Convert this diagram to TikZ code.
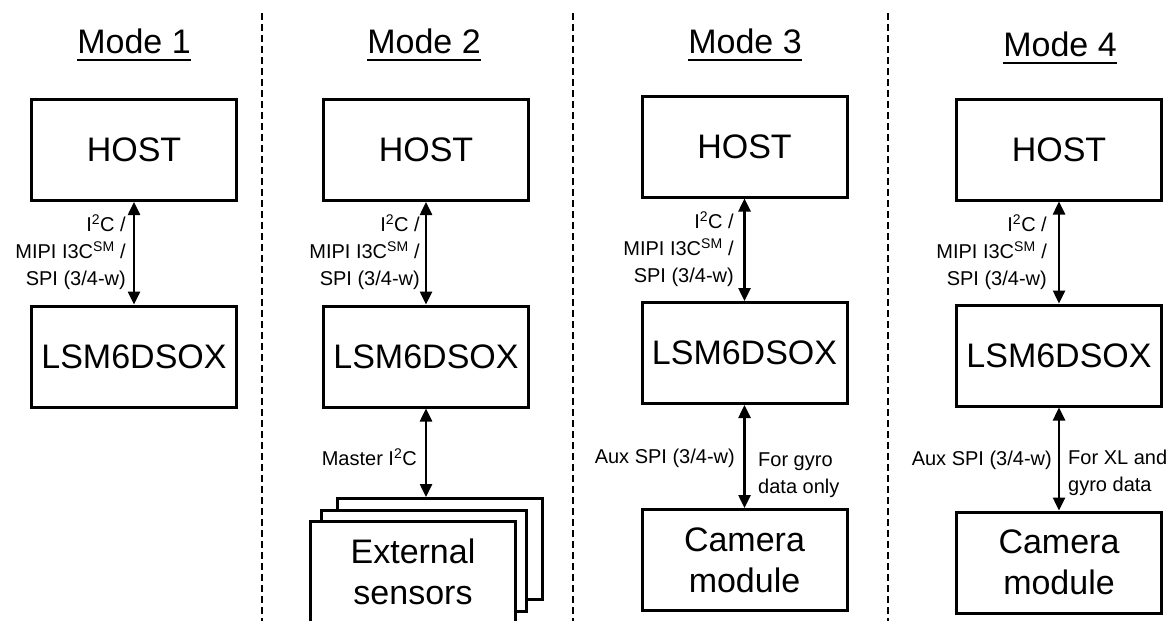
\documentclass[tikz,border=0pt]{standalone}
\usepackage{fontspec}
\setmainfont{Liberation Sans}
\usetikzlibrary{arrows.meta}

\tikzset{
  blk/.style={draw,line width=3pt,minimum width=205pt,minimum height=101pt,
    align=center,font=\fontsize{34}{41}\selectfont},
  ttl/.style={inner sep=0pt,anchor=base,font=\fontsize{34}{41}\selectfont},
  lbl/.style={inner sep=0pt,font=\fontsize{20}{27}\selectfont},
  bus/.style={line width=2.5pt,{Triangle[width=12pt,length=13pt]}-{Triangle[width=12pt,length=13pt]}},
  sep/.style={line width=2pt,dash pattern=on 7pt off 4pt}
}
\newcommand{\ifc}{I\textsuperscript{2}C /\\MIPI I3C\textsuperscript{SM} /\\SPI (3/4-w)}

\begin{document}
\begin{tikzpicture}[x=1pt,y=-1pt]
\useasboundingbox (0,0) rectangle (1176,621);

% separators
\foreach \xs in {262,573,888}{
  \draw[sep] (\xs,13) -- (\xs,621);
};

% titles
\foreach \nm/\xt/\yt/\tx in {t1/134/53/Mode 1,t2/424/53/Mode 2,t3/745/53/Mode 3,t4/1060/56/Mode 4}{
  \node[ttl] (\nm) at (\xt,\yt) {\tx};
  \draw[line width=2pt] ([yshift=-7pt]\nm.base west) -- ([yshift=-7pt]\nm.base east);
};

% mode 1
\node[blk] (host1) at (134,150) {HOST};
\node[blk] (lsm1) at (134,356.5) {LSM6DSOX};
\draw[bus] (host1) -- (lsm1);
\node[lbl,align=right,anchor=east] (if1) at (126,252) {\ifc};

% mode 2
\node[blk] (host2) at (426,150) {HOST};
\node[blk] (lsm2) at (426,356.5) {LSM6DSOX};
\draw[bus] (host2) -- (lsm2);
\node[lbl,align=right,anchor=east] (if2) at (420,252) {\ifc};
\node[blk,fill=white] (ext3) at (439.5,549) {};
\node[blk,fill=white] (ext2) at (424,560.5) {};
\node[blk,fill=white] (ext1) at (413,571.5) {External\\sensors};
\draw[bus] (lsm2) -- (lsm2.south |- ext3.north);
\node[lbl,anchor=east] (mst2) at (417,457) {Master I\textsuperscript{2}C};

% mode 3
\node[blk] (host3) at (744.5,146.5) {HOST};
\node[blk] (lsm3) at (744.5,353) {LSM6DSOX};
\node[blk] (cam3) at (744.5,560) {Camera\\module};
\draw[bus] (host3) -- (lsm3);
\draw[bus] (lsm3) -- (cam3);
\node[lbl,align=right,anchor=east] (if3) at (734,249) {\ifc};
\node[lbl,anchor=east] (aux3) at (735,458) {Aux SPI (3/4-w)};
\node[lbl,align=left,anchor=west] (for3) at (758,475) {For gyro\\data only};

% mode 4
\node[blk] (host4) at (1059,149.5) {HOST};
\node[blk] (lsm4) at (1059,355.5) {LSM6DSOX};
\node[blk] (cam4) at (1059,562.5) {Camera\\module};
\draw[bus] (host4) -- (lsm4);
\draw[bus] (lsm4) -- (cam4);
\node[lbl,align=right,anchor=east] (if4) at (1047,252) {\ifc};
\node[lbl,anchor=east] (aux4) at (1052,460) {Aux SPI (3/4-w)};
\node[lbl,align=left,anchor=west] (for4) at (1068,473) {For XL and\\gyro data};

\end{tikzpicture}
\end{document}
